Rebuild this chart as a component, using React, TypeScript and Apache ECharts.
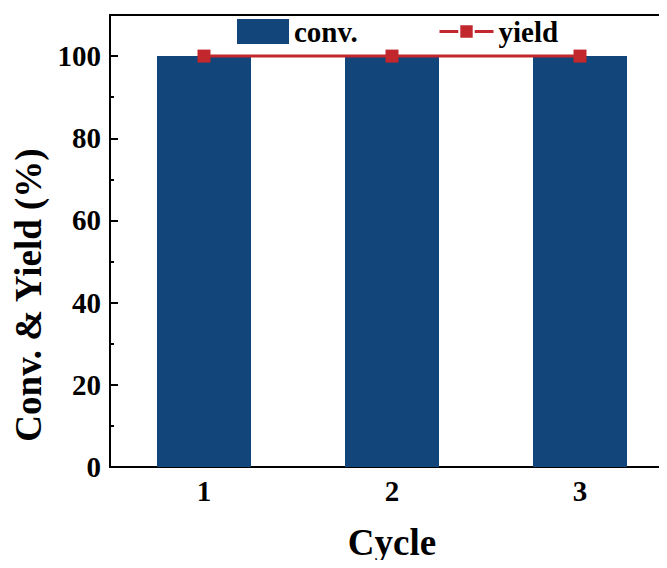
import React, { useEffect, useRef } from "react";
import * as echarts from "echarts";

const cycles = ["1", "2", "3"];
const convValues = [100, 100, 100];
const yieldValues = [100, 100, 100];
const yTickLabels = [0, 20, 40, 60, 80, 100];

const FONT = "'Liberation Serif', 'Times New Roman', serif";
const BLUE = "#12457a";
const RED = "#c1272d";

export default function App() {
  const ref = useRef<HTMLDivElement>(null);
  useEffect(() => {
    if (!ref.current) return;
    const chart = echarts.init(ref.current, undefined, { renderer: "svg" });
    chart.setOption({
      animation: false,
      backgroundColor: "#ffffff",
      grid: {
        left: 110,
        top: 15,
        right: 0,
        bottom: 101,
        show: true,
        borderColor: "#000",
        borderWidth: 2,
        backgroundColor: "transparent",
      },
      legend: [
        {
          data: [{ name: "conv.", icon: "rect" }],
          left: 237,
          top: 17,
          padding: 0,
          itemWidth: 52,
          itemHeight: 25,
          textStyle: { fontFamily: FONT, fontWeight: "bold", fontSize: 29, color: "#000" },
        },
        {
          data: ["yield"],
          left: 438,
          top: 17,
          padding: 0,
          itemWidth: 54,
          itemHeight: 18,
          itemStyle: { borderColor: "#fff", borderWidth: 2 },
          lineStyle: { width: 3 },
          textStyle: { fontFamily: FONT, fontWeight: "bold", fontSize: 29, color: "#000" },
        },
      ],
      xAxis: {
        type: "category",
        data: cycles,
        name: "Cycle",
        nameLocation: "middle",
        nameGap: 57,
        nameTextStyle: { fontFamily: FONT, fontWeight: "bold", fontSize: 37, color: "#000" },
        axisLine: { lineStyle: { color: "#000", width: 2 } },
        axisTick: { show: false },
        axisLabel: { fontFamily: FONT, fontWeight: "bold", fontSize: 29, color: "#000", margin: 9 },
        splitLine: { show: false },
      },
      yAxis: [
        {
          type: "value",
          min: 0,
          max: 110,
          interval: 20,
          name: "Conv. & Yield (%)",
          nameLocation: "middle",
          nameGap: 58,
          nameTextStyle: {
            fontFamily: FONT,
            fontWeight: "bold",
            fontSize: 37,
            color: "#000",
            padding: [0, 108, 0, 0],
          },
          axisLine: { show: true, lineStyle: { color: "#000", width: 2 } },
          axisTick: { show: true, inside: true, length: 8, lineStyle: { color: "#000", width: 2 } },
          axisLabel: {
            fontFamily: FONT,
            fontWeight: "bold",
            fontSize: 29,
            color: "#000",
            margin: 9,
            formatter: (v: number) => (yTickLabels.includes(v) ? String(v) : ""),
          },
          splitLine: { show: false },
        },
        {
          type: "value",
          min: 0,
          max: 110,
          interval: 10,
          position: "left",
          axisLine: { show: false },
          axisTick: { show: true, inside: true, length: 4, lineStyle: { color: "#000", width: 2 } },
          axisLabel: { show: false },
          splitLine: { show: false },
        },
      ],
      series: [
        {
          name: "conv.",
          type: "bar",
          data: convValues,
          barWidth: "50%",
          itemStyle: { color: BLUE },
          z: 1,
        },
        {
          name: "yield",
          type: "line",
          data: yieldValues,
          symbol: "rect",
          symbolSize: 13,
          itemStyle: { color: RED },
          lineStyle: { color: RED, width: 3 },
          z: 3,
        },
      ],
    });
    return () => chart.dispose();
  }, []);
  return (
    <div style={{ width: 667, height: 568, overflow: "hidden", margin: -8 }}>
      <div ref={ref} style={{ width: 674, height: 568 }} />
    </div>
  );
}
